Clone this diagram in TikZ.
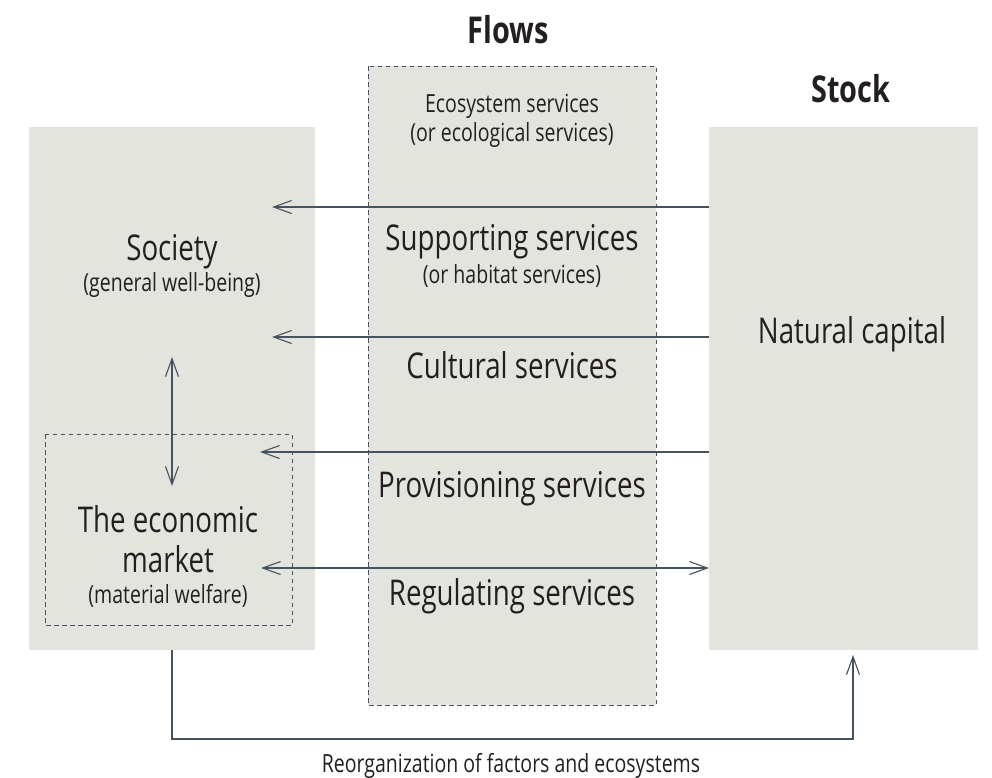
\documentclass[tikz,border=0pt]{standalone}
\usepackage{fontspec}
\setmainfont{Open Sans}[FakeStretch=0.78]
\usetikzlibrary{arrows.meta}
\definecolor{boxfill}{HTML}{E4E4DF}
\definecolor{arr}{HTML}{45535E}
\definecolor{txt}{HTML}{231F20}
\begin{document}
\begin{tikzpicture}[x=1pt,y=-1pt,
  panel/.style={fill=boxfill,draw=none},
  dashbox/.style={draw=arr,dash pattern=on 4.5pt off 3.5pt,line width=0.9pt},
  tip/.tip={Straight Barb[length=18pt,width=13pt,line width=1.1pt]},
  conn/.style={draw=arr,line width=1.1pt,-tip},
  bconn/.style={draw=arr,line width=1.1pt,tip-tip},
  big/.style={font=\fontsize{35.5}{40}\selectfont,text=txt,inner sep=0,anchor=base},
  small/.style={font=\fontsize{25}{30}\selectfont,text=txt,inner sep=0,anchor=base},
  ttl/.style={font=\bfseries\fontsize{37}{40}\selectfont,text=txt,inner sep=0,anchor=base}]
\useasboundingbox (0,0) rectangle (992,777);
% panels
\path[panel] (29,127) rectangle (315,650);
\path[panel] (709,127) rectangle (978,650);
\path[panel,dashbox] (368,66) rectangle (656,705);
\draw[dashbox] (45,434) rectangle (292,625);
% titles
\node[ttl] (flows) at (508,43) {Flows};
\node[ttl] (stock) at (851,102) {Stock};
% middle texts
\node[small] (eco1) at (512,112) {Ecosystem services};
\node[small] (eco2) at (512,141) {(or ecological services)};
\node[big] (sup) at (512,250) {Supporting services};
\node[small] (sup2) at (512,283) {(or habitat services)};
\node[big] (cul) at (512,378) {Cultural services};
\node[big] (prov) at (512,497) {Provisioning services};
\node[big] (reg) at (512,605) {Regulating services};
% left texts
\node[big] (soc) at (172,260) {Society};
\node[small] (soc2) at (172,291) {(general well-being)};
\node[big] (eco) at (168,532) {The economic};
\node[big] (mkt) at (168,572) {market};
\node[small] (mkt2) at (168,603) {(material welfare)};
% right text
\node[big] (nat) at (852,343) {Natural capital};
% connector anchors
\coordinate (r1) at (709,207); \coordinate (l1) at (272,207);
\coordinate (r2) at (709,337); \coordinate (l2) at (272,337);
\coordinate (r3) at (709,452); \coordinate (l3) at (260,452);
\coordinate (r4) at (709,568); \coordinate (l4) at (261,568);
\coordinate (vt) at (172,357); \coordinate (vb) at (172,486);
\coordinate (bs) at (172,650); \coordinate (be) at (853,655);
\draw[conn] (r1) -- (l1);
\draw[conn] (r2) -- (l2);
\draw[conn] (r3) -- (l3);
\draw[bconn] (l4) -- (r4);
\draw[bconn] (vt) -- (vb);
\draw[conn] (bs) |- (be |- 0,739) -- (be);
\node[small] (reorg) at (511,772) {Reorganization of factors and ecosystems};
\end{tikzpicture}
\end{document}
